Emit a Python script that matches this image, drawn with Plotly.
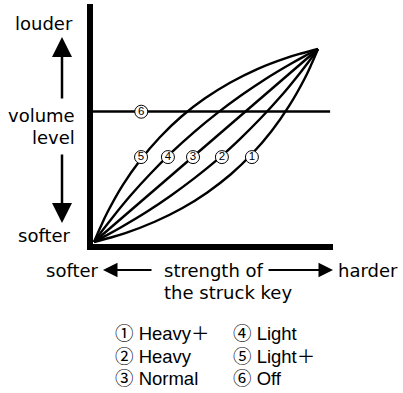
import plotly.graph_objects as go

# ---- data (units: % of the curve span) ----
c5_x = [0, 2.9, 6.0, 12.9, 20.7, 29.4, 38.9, 49.4, 60.7, 72.9, 86.0, 92.9, 100]
c5_y = [0, 7.8, 15.4, 29.6, 42.5, 54.3, 64.9, 74.3, 82.5, 89.6, 95.4, 97.8, 100]
c4_x = [0, 4.0, 8.1, 16.6, 25.6, 35.0, 44.8, 55.0, 65.6, 76.6, 88.1, 94.0, 100]
c4_y = [0, 6.3, 12.5, 24.5, 35.9, 46.8, 57.1, 66.8, 75.9, 84.5, 92.5, 96.3, 100]
c3_x = [0, 100]
c3_y = [0, 100]
c2_x = [0, 6.0, 11.9, 23.4, 34.4, 45.0, 55.3, 65.0, 74.4, 83.4, 91.9, 96.0, 100]
c2_y = [0, 3.7, 7.5, 15.5, 24.1, 33.2, 42.9, 53.2, 64.1, 75.5, 87.5, 93.7, 100]
c1_x = [0, 7.1, 14.0, 27.1, 39.3, 50.6, 61.1, 70.6, 79.3, 87.1, 94.0, 97.1, 100]
c1_y = [0, 2.2, 4.6, 10.5, 17.5, 25.7, 35.1, 45.7, 57.5, 70.5, 84.6, 92.2, 100]
off_x = [-1, 105.4]
off_y = [67.6, 67.6]

label_nums = ["5", "4", "3", "2", "1", "6"]
label_x = [21.0, 33.0, 44.2, 57.1, 70.5, 21.1]
label_y = [44.0, 44.0, 44.0, 44.0, 44.0, 67.5]

legend_col1 = ["① Heavy＋", "② Heavy", "③ Normal"]
legend_col2 = ["④ Light", "⑤ Light＋", "⑥ Off"]

# ---- layout geometry (pixels) ----
W, H = 403, 393
PL, PR, PT, PB = 93, 333, 4, 244  # plot area edges


def X(px):
    return (px - PL) / (PR - PL)


def Y(py):
    return (PB - py) / (PB - PT)


fig = go.Figure()
line_style = dict(color="black", width=2.4)
for xs, ys in [(c5_x, c5_y), (c4_x, c4_y), (c3_x, c3_y), (c2_x, c2_y), (c1_x, c1_y), (off_x, off_y)]:
    fig.add_trace(go.Scatter(x=xs, y=ys, mode="lines", line=dict(shape="spline", **line_style),
                             hoverinfo="skip"))

fig.add_trace(go.Scatter(
    x=label_x, y=label_y, mode="markers+text", text=label_nums,
    textposition="middle center",
    textfont=dict(family="Liberation Sans", size=11.5, color="black"),
    marker=dict(size=13, color="white", line=dict(color="black", width=1)),
    hoverinfo="skip"))

xmin = -(94 - PL) / 2.24
xmax = xmin + (PR - PL) / 2.24
ymin = -(PB - 242) / 1.93
ymax = ymin + (PB - PT) / 1.93

fig.update_layout(
    width=W, height=H, autosize=False,
    margin=dict(l=PL, r=W - PR, t=PT, b=H - PB, pad=0),
    paper_bgcolor="white", plot_bgcolor="white",
    showlegend=False, hovermode=False,
    xaxis=dict(range=[xmin, xmax], showgrid=False, zeroline=False, showticklabels=False,
               ticks="", showline=True, linewidth=6, linecolor="black", fixedrange=True),
    yaxis=dict(range=[ymin, ymax], showgrid=False, zeroline=False, showticklabels=False,
               ticks="", showline=True, linewidth=6, linecolor="black", fixedrange=True),
)

axis_font = dict(family="DejaVu Sans", size=18, color="black")
leg_font = dict(family="Liberation Sans, Noto Sans CJK JP", size=18.5, color="black")

texts = [
    ("louder", 44, 23, "center", axis_font),
    ("volume", 77, 115, "right", axis_font),
    ("level", 77, 137, "right", axis_font),
    ("softer", 44.5, 235, "center", axis_font),
    ("softer", 101, 270, "right", axis_font),
    ("harder", 336, 270, "left", axis_font),
    ("strength of", 162, 270, "left", axis_font),
    ("the struck key", 162, 292, "left", axis_font),
]
for i, t in enumerate(legend_col1):
    texts.append((t, 113, 333.5 + 22.5 * i, "left", leg_font))
for i, t in enumerate(legend_col2):
    texts.append((t, 231, 333.5 + 22.5 * i, "left", leg_font))

for t, px, py, anc, f in texts:
    fig.add_annotation(x=X(px), y=Y(py), xref="paper", yref="paper", text=t,
                       showarrow=False, xanchor=anc, yanchor="middle", font=f)

arrows = [
    (62, 37, 62, 100, 2.5, 1.6),
    (62, 223, 62, 153, 2.5, 1.6),
    (103, 270, 153, 270, 2, 1.45),
    (333, 270, 267, 270, 2, 1.45),
]
for tx, ty, sx, sy, w, s in arrows:
    fig.add_annotation(x=X(tx), y=Y(ty), xref="paper", yref="paper", text="",
                       showarrow=True, arrowhead=2, arrowwidth=w, arrowsize=s,
                       arrowcolor="black", ax=sx - tx, ay=sy - ty, standoff=0)

fig.write_html("out.html", config={"displayModeBar": False},
               post_script="document.body.style.margin='0';document.body.style.overflow='hidden';")
